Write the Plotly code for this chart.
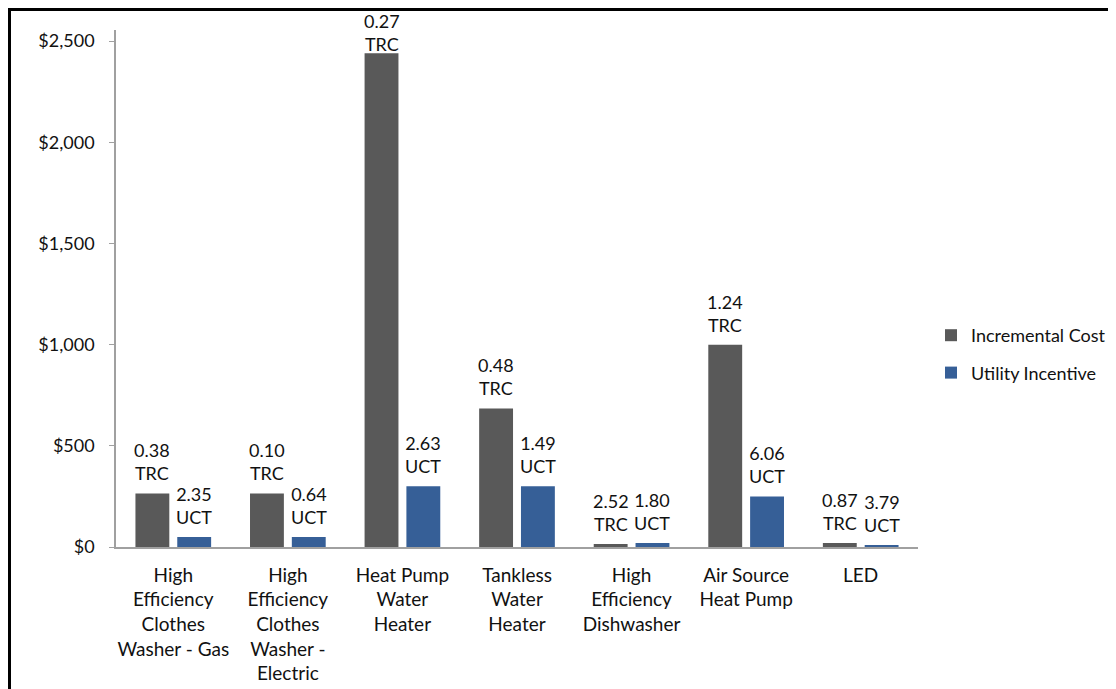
import plotly.graph_objects as go

categories = [
    "High<br>Efficiency<br>Clothes<br>Washer - Gas",
    "High<br>Efficiency<br>Clothes<br>Washer -<br>Electric",
    "Heat Pump<br>Water<br>Heater",
    "Tankless<br>Water<br>Heater",
    "High<br>Efficiency<br>Dishwasher",
    "Air Source<br>Heat Pump",
    "LED",
]
incremental_cost = [265, 265, 2440, 685, 15, 1000, 20]
utility_incentive = [50, 50, 300, 300, 20, 250, 10]
trc_ratios = ["0.38", "0.10", "0.27", "0.48", "2.52", "1.24", "0.87"]
uct_ratios = ["2.35", "0.64", "2.63", "1.49", "1.80", "6.06", "3.79"]

tick_vals = [0, 500, 1000, 1500, 2000, 2500]
tick_text = ["$0", "$500", "$1,000", "$1,500", "$2,000", "$2,500"]

FONT = "Lato"
TXT = "#111111"
label_font = dict(family=FONT, size=18, color=TXT)

# page is offset by 8px body margin; visible area is about 1108 px wide
OFF = 8
W, H = 1100, 689 - OFF
L, T = 116 - OFF, 30 - OFF
R = W - (918 - OFF)
B = H - (547 - OFF)
pw, ph = W - L - R, H - T - B
BARGAP, GROUPGAP = 0.27, 0.19
YMAX = 2555

def px(x):
    return (x - OFF - L) / pw

def py(y):
    return (H - B - (y - OFF)) / ph

fig = go.Figure()
fig.add_trace(go.Bar(
    name="Incremental Cost", x=categories, y=incremental_cost,
    marker=dict(color="#595959", line=dict(width=0)), legendgroup="a",
))
fig.add_trace(go.Bar(
    name="Utility Incentive", x=categories, y=utility_incentive,
    marker=dict(color="#365F97", line=dict(width=0)), legendgroup="b",
))

# value labels above each bar, placed on the data coordinates
slot = pw / len(categories) * (1 - BARGAP) / 2
LABEL_H = 49

def lift(v):
    bar_top = T + ph * (1 - v / YMAX)
    return min(7, bar_top - LABEL_H)

annotations = []
for cat, v, r in zip(categories, incremental_cost, trc_ratios):
    annotations.append(dict(x=cat, y=v, xref="x", yref="y", text=f"{r}<br>TRC",
                            showarrow=False, xanchor="center", yanchor="bottom",
                            xshift=-slot / 2, yshift=lift(v), font=label_font))
for cat, v, r in zip(categories, utility_incentive, uct_ratios):
    annotations.append(dict(x=cat, y=v, xref="x", yref="y", text=f"{r}<br>UCT",
                            showarrow=False, xanchor="center", yanchor="bottom",
                            xshift=slot / 2, yshift=lift(v), font=label_font))

fig.update_layout(
    width=W, height=H,
    margin=dict(l=L, r=R, t=T, b=B, autoexpand=False),
    paper_bgcolor="white", plot_bgcolor="white",
    barmode="group", bargap=BARGAP, bargroupgap=GROUPGAP,
    font=dict(family=FONT, color=TXT),
    showlegend=True,
    legend=dict(
        x=px(931), y=py(354), xanchor="left", yanchor="middle",
        font=dict(family=FONT, size=18, color=TXT),
        tracegroupgap=11, itemwidth=30, bgcolor="rgba(0,0,0,0)",
    ),
    xaxis=dict(
        showline=True, linecolor="#a0a0a0", linewidth=1.5, automargin=False,
        ticks="", tickfont=dict(family=FONT, size=19, color=TXT),
        showgrid=False, fixedrange=True, ticklabelstandoff=10,
    ),
    yaxis=dict(
        range=[0, YMAX], tickvals=tick_vals, ticktext=tick_text, automargin=False,
        showline=True, linecolor="#a0a0a0", linewidth=1.5,
        ticks="outside", ticklen=5, tickcolor="#a0a0a0",
        tickfont=dict(family=FONT, size=18, color=TXT),
        showgrid=False, zeroline=False, fixedrange=True, ticklabelstandoff=11,
    ),
    annotations=annotations,
    shapes=[
        dict(type="line", xref="paper", yref="paper",
             x0=px(OFF), x1=px(1116 + 10), y0=py(OFF + 1.5), y1=py(OFF + 1.5),
             line=dict(color="black", width=3)),
        dict(type="line", xref="paper", yref="paper",
             x0=px(OFF + 1.5), x1=px(OFF + 1.5), y0=py(OFF), y1=py(689 + 10),
             line=dict(color="black", width=3)),
    ],
)

fig.write_html("out.html")
